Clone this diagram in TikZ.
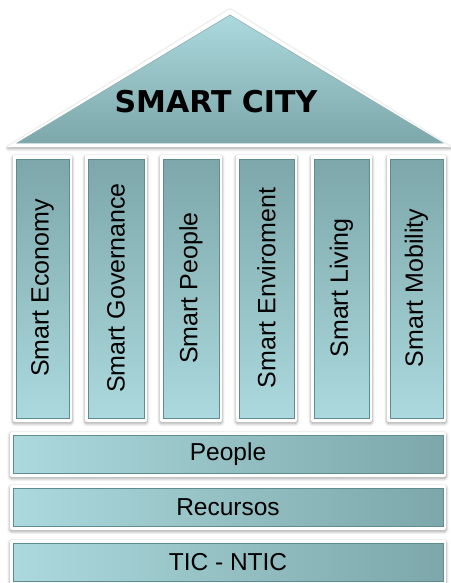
\documentclass[tikz,border=0pt]{standalone}
\usepackage{fontspec}
\setmainfont{Liberation Sans}
\newfontfamily\dvbold{DejaVu Sans}[BoldFont={DejaVu Sans Bold}]
\usetikzlibrary{shadows.blur}
\definecolor{tlight}{HTML}{ABD9DD}
\definecolor{tdark}{HTML}{7DA7AA}
\definecolor{tedge}{HTML}{5F8C8F}
\tikzset{
  frame/.style={fill=white, rounded corners=2pt, blur shadow={shadow blur steps=6, shadow xshift=0pt, shadow yshift=-1.5pt, shadow opacity=40, shadow blur radius=3pt}},
  pillarfill/.style={top color=tdark, bottom color=tlight, draw=tedge, line width=0.6pt},
  barfill/.style={left color=tlight, right color=tdark, draw=tedge, line width=0.6pt},
  rooffill/.style={top color=tlight, bottom color=tdark, draw=tedge!70, line width=0.6pt},
  ptext/.style={rotate=90, font=\fontsize{25}{25}\selectfont, text=black},
  btext/.style={font=\fontsize{24.5}{24.5}\selectfont, text=black},
}
\begin{document}
\begin{tikzpicture}[x=1pt,y=-1pt]
\useasboundingbox (0,0) rectangle (450,583);
% roof
\path[frame, rounded corners=1pt] (230,9) -- (7,147) -- (451,147) -- cycle;
\path[rooffill] (230,15) -- (17,143) -- (443,143) -- cycle;
\node[font=\dvbold\bfseries\fontsize{30}{30}\selectfont] (title) at (216,102) {SMART CITY};
% pillars
\foreach \i/\a/\b/\t in {1/13/72/Smart Economy, 2/85/147/Smart Governance, 3/160/222/Smart People, 4/236/297/Smart Enviroment, 5/311/372/Smart Living, 6/387/446/Smart Mobility}{
  \path[frame] (\a,155) rectangle (\b,422);
  \path[pillarfill] (\a+3,159) rectangle (\b-3,418);
  \node[ptext] (pillar\i) at ({(\a+\b)/2},288) {\t};
}
% bars
\foreach \i/\y/\t in {1/432/People, 2/485/Recursos, 3/540/TIC - NTIC}{
  \path[frame] (10,\y) rectangle (446,\y+45);
  \path[barfill] (13,\y+3) rectangle (443,\y+41);
  \node[btext] (bar\i) at (228,\y+22) {\t};
}
\end{tikzpicture}
\end{document}
